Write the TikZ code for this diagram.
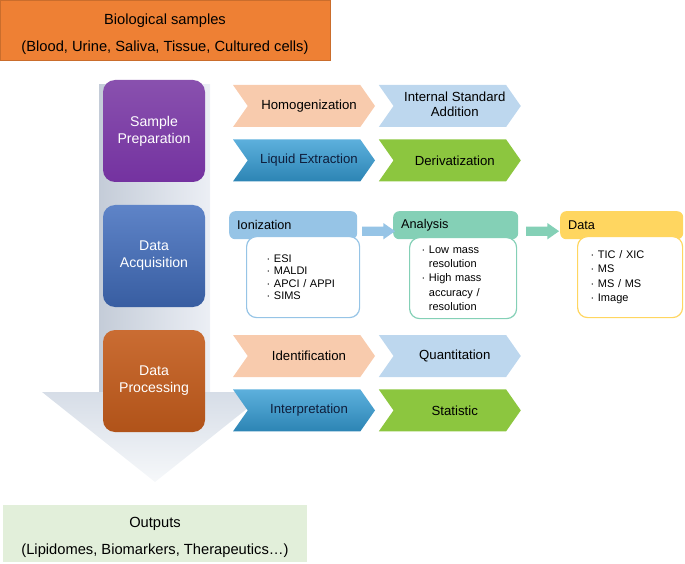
\documentclass[tikz,border=0pt]{standalone}
\usepackage{fontspec}
\setmainfont{Liberation Sans}
\usepackage{tikz}
\usetikzlibrary{arrows.meta,calc,positioning,shapes.symbols,shapes.arrows}

\definecolor{topor}{RGB}{238,128,52}
\definecolor{prepc}{RGB}{116,50,160}
\definecolor{acqc}{RGB}{66,110,190}
\definecolor{procc}{RGB}{196,92,28}
\definecolor{peach}{RGB}{248,203,173}
\definecolor{lblue}{RGB}{189,215,238}
\definecolor{dblue}{RGB}{52,156,212}
\definecolor{lgreen}{RGB}{140,198,63}
\definecolor{ionc}{RGB}{150,196,230}
\definecolor{anac}{RGB}{132,208,182}
\definecolor{datc}{RGB}{255,214,96}
\definecolor{outc}{RGB}{226,239,218}
\definecolor{navytext}{RGB}{15,30,60}

\newcommand{\itemdot}{\textperiodcentered\ }
\newcommand{\itemgap}{\phantom{\textperiodcentered\ }}
\newcommand{\chevpad}{\hspace*{10pt}}

\begin{document}
\begin{tikzpicture}[
    x=1pt, y=-1pt,
    font=\fontsize{12}{14}\selectfont,
    bigbox/.style={minimum width=330pt, minimum height=60pt, align=center,
                   font=\fontsize{14.7}{27}\selectfont},
    stage/.style={rounded corners=12pt, minimum width=102pt, minimum height=102pt,
                  align=center, text=white, font=\fontsize{14.1}{17}\selectfont},
    chev/.style={signal, signal from=west, signal to=east, signal pointer angle=110,
                 minimum width=142pt, minimum height=42pt, inner xsep=2pt, align=center,
                 font=\fontsize{13.2}{15.5}\selectfont,
                 execute at begin node=\chevpad},
    head/.style={rounded corners=6pt, anchor=north west, minimum height=28pt,
                 text width=112pt, inner xsep=8pt, align=left,
                 font=\fontsize{12.7}{14}\selectfont},
    body/.style={rounded corners=10pt, fill=white, line width=1.2pt, anchor=north west,
                 minimum height=81pt, inner xsep=12pt, align=left,
                 font=\fontsize{11}{14.2}\selectfont},
    blockarrow/.style={single arrow, minimum height=33pt, inner xsep=0pt, inner ysep=4.5pt,
                       single arrow head extend=3.5pt, single arrow tip angle=70}
]
\useasboundingbox (0,0) rectangle (685,564);

% big down arrow behind the stages
\shade[left color={rgb,255:red,196;green,204;blue,216}, right color={rgb,255:red,236;green,239;blue,245}]
    (99,85) rectangle (210,393);
\shade[top color={rgb,255:red,214;green,221;blue,231}, bottom color={rgb,255:red,246;green,248;blue,250}]
    (42,392) -- (268,392) -- (155,482) -- cycle;

% input and output
\node[bigbox, fill=topor, draw=topor!85!black] (samples) at (165,30)
    {\rule{0pt}{20pt}Biological samples\\(Blood, Urine, Saliva, Tissue, Cultured cells)};
\node[bigbox, fill=outc, minimum width=304pt, minimum height=57pt] (outputs) at (155,533)
    {\rule{0pt}{19pt}Outputs\\(Lipidomes, Biomarkers, Therapeutics\ldots)};

% stages
\node[stage, top color=prepc!85!white, bottom color=prepc] (prep) at (154,131)
    {Sample\\Preparation};
\node[stage, top color=acqc!85!white, bottom color=acqc!85!black] (acq) at (154,256)
    {Data\\Acquisition};
\node[stage, top color=procc!90!white, bottom color=procc!90!black] (proc) at (154,381)
    {Data\\Processing};

% sample preparation steps
\node[chev, fill=peach] (homog) at (304,106) {Homogenization};
\node[chev, fill=lblue, inner xsep=0pt, right=18pt of homog] (istd)
    {\begin{tabular}{@{}c@{}}Internal Standard\\Addition\end{tabular}};
\node[chev, top color=dblue!80!white, bottom color=dblue!85!black, text=navytext,
      below=12pt of homog] (extract) {Liquid Extraction};
\node[chev, fill=lgreen, right=18pt of extract] (deriv) {Derivatization};

% data acquisition
\node[head, fill=ionc] (ion) at (229,211) {Ionization};
\node[head, fill=anac, text width=109pt] (ana) at (393,211) {Analysis};
\node[head, fill=datc, text width=107pt] (dat) at (560,211) {Data};
\node[body, draw=ionc, text width=73pt, inner xsep=20pt,
      font=\fontsize{11}{12.4}\selectfont] (ionbody) at (246,236)
    {\itemdot ESI\\\itemdot MALDI\\\itemdot APCI / APPI\\\itemdot SIMS};
\node[body, draw=anac, text width=83pt] (anabody) at (409,237)
    {\itemdot Low mass\\\itemgap resolution\\\itemdot High mass\\\itemgap accuracy /\\\itemgap resolution};
\node[body, draw=datc, text width=79pt, inner xsep=13pt] (datbody) at (577,236)
    {\itemdot TIC / XIC\\\itemdot MS\\\itemdot MS / MS\\\itemdot Image};
\node[blockarrow, fill=ionc] (ionarrow) at ($(ion.east)!0.5!(ana.west)+(0,6)$) {};
\node[blockarrow, fill=anac] (anaarrow) at ($(ana.east)!0.5!(dat.west)+(0,6)$) {};

% data processing steps
\node[chev, fill=peach] (ident) at (304,356) {Identification};
\node[chev, fill=lblue, right=18pt of ident] (quant) {Quantitation};
\node[chev, top color=dblue!80!white, bottom color=dblue!85!black, text=navytext,
      below=12pt of ident] (interp) {Interpretation};
\node[chev, fill=lgreen, right=18pt of interp] (stat) {Statistic};
\end{tikzpicture}
\end{document}
